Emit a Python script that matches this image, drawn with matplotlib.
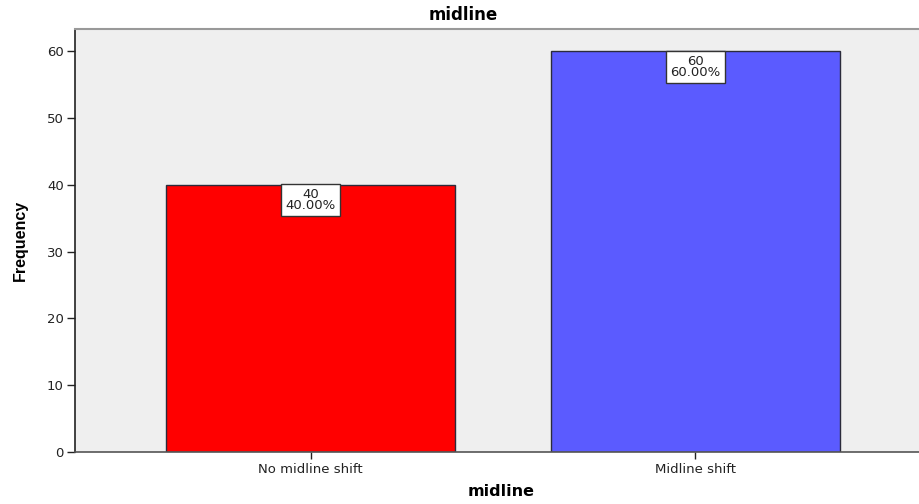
import matplotlib
matplotlib.use("Agg")
import matplotlib.pyplot as plt

categories = ["No midline shift", "Midline shift"]
counts = [40, 60]
percents = [40.00, 60.00]
colors = ["#ff0000", "#5b5bff"]
yticks = [0, 10, 20, 30, 40, 50, 60]

plt.rcParams['font.family'] = ['DejaVu Sans']

W, H = 920, 504
fig = plt.figure(figsize=(W/100, H/100), dpi=100)
left, right, top, bottom = 75, 931, 29, 452
ax = fig.add_axes([left/W, (H-bottom)/H, (right-left)/W, (bottom-top)/H])
ax.set_facecolor("#efefef")

x = list(range(len(categories)))
ax.bar(x, counts, width=0.75, color=colors, edgecolor="#2b2b3b", linewidth=1.0, zorder=2)
ax.set_xlim(-0.612, 1.612)
ax.set_ylim(0, 63.3)

for xi, c, p in zip(x, counts, percents):
    ax.text(xi, c - 0.55, f"{c}\n{p:.2f}%", ha="center", va="top", fontsize=9.5,
            linespacing=0.8, zorder=3, color="#222222",
            bbox=dict(boxstyle="square,pad=0.3", fc="white", ec="#333333", lw=1))

ax.set_xticks(x)
ax.set_xticklabels(categories, fontsize=9.5)
ax.set_yticks(yticks)
ax.set_yticklabels([str(t) for t in yticks], fontsize=9.5)
ax.tick_params(axis="y", direction="out", length=6, width=1, pad=2, colors="#222222")
ax.tick_params(axis="x", direction="out", length=5, width=1, pad=3, colors="#222222")

ax.spines["top"].set_color("#999999")
ax.spines["top"].set_linewidth(1.5)
ax.spines["right"].set_visible(False)
ax.spines["left"].set_color("#222222")
ax.spines["left"].set_linewidth(1.2)
ax.spines["bottom"].set_color("#555555")
ax.spines["bottom"].set_linewidth(1.2)

ax.set_ylabel("Frequency", fontsize=11.5, fontweight="bold", labelpad=14,
              family=["Liberation Sans", "DejaVu Sans"])
fig.text(501/W, 1 - 492/H, "midline", ha="center", va="center", fontsize=11.5, fontweight="bold")
fig.text(463/W, 1 - 15/H, "midline", ha="center", va="center", fontsize=12, fontweight="bold")

fig.savefig("out.png", dpi=100)
